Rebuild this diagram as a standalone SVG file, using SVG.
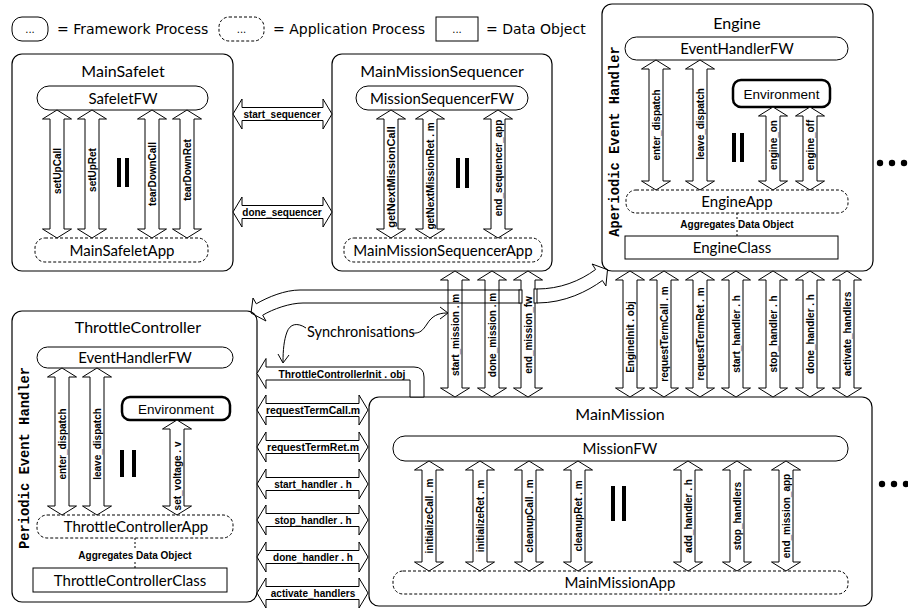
<svg xmlns="http://www.w3.org/2000/svg" width="908" height="610" viewBox="0 0 908 610">
<style>
.box{fill:#fff;stroke:#000;stroke-width:1.2}
.fw{fill:#fff;stroke:#000;stroke-width:1}
.app{fill:#fff;stroke:#000;stroke-width:1;stroke-dasharray:3 2}
.data{fill:#fff;stroke:#000;stroke-width:1}
.env{fill:#fff;stroke:#000;stroke-width:2.5}
.arr{fill:#fff;stroke:#000;stroke-width:1}
.line{fill:none;stroke:#000;stroke-width:1}
.dash{fill:none;stroke:#000;stroke-width:1;stroke-dasharray:2 2}
.bar{stroke:#000;stroke-width:4}
.title{font-family:Lato,"Liberation Sans",sans-serif;font-size:16px;text-anchor:middle}
.lbl{font-family:Lato,"Liberation Sans",sans-serif;font-size:15px;text-anchor:middle}
.sync{font-family:Lato,"Liberation Sans",sans-serif;font-size:14.5px}
.envt{font-family:"Liberation Sans",Arial,sans-serif;font-size:13.5px;text-anchor:middle}
.al{font-family:"Liberation Sans",Arial,sans-serif;font-weight:bold;font-size:10px;text-anchor:middle}
.mono{font-family:"Liberation Mono","Courier New",monospace;font-weight:bold;font-size:13.8px;text-anchor:middle}
.leg{font-family:"DejaVu Sans",sans-serif;font-size:14px}
.dots{font-family:"DejaVu Sans",sans-serif;font-size:10px;text-anchor:middle}
</style>
<rect x="0" y="0" width="908" height="610" fill="#fff"/>

<g id="legend">
<rect class="fw" x="12" y="17" width="36" height="24" rx="10"/>
<text class="dots" x="30" y="33">...</text>
<text class="leg" x="57" y="34">= Framework Process</text>
<rect class="app" x="219" y="17" width="45" height="24" rx="10"/>
<text class="dots" x="241.5" y="33">...</text>
<text class="leg" x="273" y="34">= Application Process</text>
<rect class="data" x="436" y="17" width="42" height="24"/>
<text class="dots" x="457" y="33">...</text>
<text class="leg" x="486" y="34">= Data Object</text>
</g>

<g id="MainSafelet">
<rect class="box" x="12" y="54" width="221" height="217" rx="10"/>
<text class="title" x="123" y="77">MainSafelet</text>
<rect class="fw" x="37" y="86" width="171" height="24" rx="12"/>
<text class="lbl" x="123" y="104">SafeletFW</text>
<rect class="app" x="35" y="238" width="173" height="24" rx="10"/>
<text class="lbl" x="122" y="256">MainSafeletApp</text>
<path class="arr" d="M57,110 l14.5,9 h-7.5 v110 h7.5 l-14.5,9 l-14.5,-9 h7.5 v-110 h-7.5 z"/>
<path class="arr" d="M92,110 l14.5,9 h-7.5 v110 h7.5 l-14.5,9 l-14.5,-9 h7.5 v-110 h-7.5 z"/>
<path class="arr" d="M152,110 l14.5,9 h-7.5 v110 h7.5 l-14.5,9 l-14.5,-9 h7.5 v-110 h-7.5 z"/>
<path class="arr" d="M187,110 l14.5,9 h-7.5 v110 h7.5 l-14.5,9 l-14.5,-9 h7.5 v-110 h-7.5 z"/>
<text class="al" transform="translate(61,171) rotate(-90) scale(1,1.15)">setUpCall</text>
<text class="al" transform="translate(96,170) rotate(-90) scale(1,1.15)">setUpRet</text>
<text class="al" transform="translate(156,174) rotate(-90) scale(1,1.15)">tearDownCall</text>
<text class="al" transform="translate(191,170) rotate(-90) scale(1,1.15)">tearDownRet</text>
<line class="bar" x1="119" y1="158" x2="119" y2="187"/>
<line class="bar" x1="127" y1="158" x2="127" y2="187"/>
</g>

<g id="MainMissionSequencer">
<rect class="box" x="332" y="54" width="220" height="217" rx="10"/>
<text class="title" x="442" y="77">MainMissionSequencer</text>
<rect class="fw" x="356" y="86" width="172" height="24" rx="12"/>
<text class="lbl" x="442" y="104">MissionSequencerFW</text>
<rect class="app" x="344" y="238" width="198" height="24" rx="10"/>
<text class="lbl" x="443" y="256">MainMissionSequencerApp</text>
<path class="arr" d="M391,110 l14.5,9 h-7.5 v110 h7.5 l-14.5,9 l-14.5,-9 h7.5 v-110 h-7.5 z"/>
<path class="arr" d="M430,110 l14.5,9 h-7.5 v110 h7.5 l-14.5,9 l-14.5,-9 h7.5 v-110 h-7.5 z"/>
<path class="arr" d="M498,110 l14.5,9 h-7.5 v110 h7.5 l-14.5,9 l-14.5,-9 h7.5 v-110 h-7.5 z"/>
<text class="al" transform="translate(395,177) rotate(-90) scale(1.1,1.15)">getNextMissionCall</text>
<text class="al" transform="translate(434,176) rotate(-90) scale(1,1.15)">getNextMissionRet . m</text>
<text class="al" transform="translate(502,168) rotate(-90) scale(1,1.15)">end_sequencer_app</text>
<line class="bar" x1="458" y1="158" x2="458" y2="188"/>
<line class="bar" x1="467" y1="158" x2="467" y2="188"/>
</g>

<g id="Engine">
<rect class="box" x="602" y="4" width="271" height="267" rx="10"/>
<text class="title" x="737" y="29">Engine</text>
<text class="mono" transform="translate(619,141.5) rotate(-90)">Aperiodic Event Handler</text>
<rect class="fw" x="625" y="37" width="223" height="23" rx="11.5"/>
<text class="lbl" x="737" y="54">EventHandlerFW</text>
<rect class="env" x="733" y="80" width="97" height="27" rx="8"/>
<text class="envt" x="781.5" y="98.5">Environment</text>
<rect class="app" x="626" y="190" width="222" height="23" rx="10"/>
<text class="lbl" x="737" y="207">EngineApp</text>
<line class="dash" x1="737" y1="213" x2="737" y2="219"/>
<text class="al" x="737" y="228">Aggregates Data Object</text>
<line class="dash" x1="737" y1="230" x2="737" y2="236"/>
<rect class="data" x="625" y="236" width="213" height="23"/>
<text class="lbl" x="732" y="253">EngineClass</text>
<path class="arr" d="M656,60 l14.5,9 h-7.5 v112 h7.5 l-14.5,9 l-14.5,-9 h7.5 v-112 h-7.5 z"/>
<path class="arr" d="M700,60 l14.5,9 h-7.5 v112 h7.5 l-14.5,9 l-14.5,-9 h7.5 v-112 h-7.5 z"/>
<path class="arr" d="M773,107 l14.5,9 h-7.5 v65 h7.5 l-14.5,9 l-14.5,-9 h7.5 v-65 h-7.5 z"/>
<path class="arr" d="M810,107 l14.5,9 h-7.5 v65 h7.5 l-14.5,9 l-14.5,-9 h7.5 v-65 h-7.5 z"/>
<text class="al" transform="translate(660,125) rotate(-90) scale(1,1.15)">enter_dispatch</text>
<text class="al" transform="translate(704,124) rotate(-90) scale(1,1.15)">leave_dispatch</text>
<text class="al" transform="translate(777,145) rotate(-90) scale(1,1.15)">engine_on</text>
<text class="al" transform="translate(814,145) rotate(-90) scale(1,1.15)">engine_off</text>
<line class="bar" x1="734" y1="133" x2="734" y2="162"/>
<line class="bar" x1="742" y1="133" x2="742" y2="162"/>
<circle cx="880" cy="163" r="3.2"/>
<circle cx="892" cy="163" r="3.2"/>
<circle cx="904" cy="163" r="3.2"/>
</g>

<g id="ThrottleController">
<rect class="box" x="12" y="311" width="245" height="291" rx="10"/>
<text class="title" x="138" y="333">ThrottleController</text>
<text class="mono" transform="translate(29,458) rotate(-90)">Periodic Event Handler</text>
<rect class="fw" x="37" y="347" width="196" height="21" rx="10.5"/>
<text class="lbl" x="135" y="363">EventHandlerFW</text>
<rect class="env" x="122" y="397" width="108" height="23" rx="8"/>
<text class="envt" x="176" y="413.5">Environment</text>
<rect class="app" x="37" y="515" width="196" height="23" rx="10"/>
<text class="lbl" x="136" y="532">ThrottleControllerApp</text>
<line class="dash" x1="135" y1="538" x2="135" y2="550"/>
<text class="al" x="135" y="559">Aggregates Data Object</text>
<line class="dash" x1="135" y1="562" x2="135" y2="568"/>
<rect class="data" x="33" y="568" width="194" height="24"/>
<text class="lbl" x="130" y="586">ThrottleControllerClass</text>
<path class="arr" d="M62,368 l14.5,9 h-7.5 v129 h7.5 l-14.5,9 l-14.5,-9 h7.5 v-129 h-7.5 z"/>
<path class="arr" d="M97,368 l14.5,9 h-7.5 v129 h7.5 l-14.5,9 l-14.5,-9 h7.5 v-129 h-7.5 z"/>
<path class="arr" d="M177,420 l14.5,9 h-7.5 v77 h7.5 l-14.5,9 l-14.5,-9 h7.5 v-77 h-7.5 z"/>
<text class="al" transform="translate(66,444) rotate(-90) scale(1,1.15)">enter_dispatch</text>
<text class="al" transform="translate(101,444) rotate(-90) scale(1,1.15)">leave_dispatch</text>
<text class="al" transform="translate(181,476) rotate(-90) scale(1,1.15)">set_voltage . v</text>
<line class="bar" x1="122" y1="450" x2="122" y2="477"/>
<line class="bar" x1="134" y1="450" x2="134" y2="477"/>
</g>

<g id="MainMission">
<rect class="box" x="369" y="397" width="503" height="209" rx="10"/>
<text class="title" x="620" y="420">MainMission</text>
<rect class="fw" x="393" y="436" width="455" height="25" rx="12"/>
<text class="lbl" x="620" y="454">MissionFW</text>
<rect class="app" x="393" y="571" width="455" height="23" rx="10"/>
<text class="lbl" x="620" y="588">MainMissionApp</text>
<path class="arr" d="M429,461 l14.5,9 h-7.5 v92 h7.5 l-14.5,9 l-14.5,-9 h7.5 v-92 h-7.5 z"/>
<path class="arr" d="M480,461 l14.5,9 h-7.5 v92 h7.5 l-14.5,9 l-14.5,-9 h7.5 v-92 h-7.5 z"/>
<path class="arr" d="M529,461 l14.5,9 h-7.5 v92 h7.5 l-14.5,9 l-14.5,-9 h7.5 v-92 h-7.5 z"/>
<path class="arr" d="M578,461 l14.5,9 h-7.5 v92 h7.5 l-14.5,9 l-14.5,-9 h7.5 v-92 h-7.5 z"/>
<path class="arr" d="M688,461 l14.5,9 h-7.5 v92 h7.5 l-14.5,9 l-14.5,-9 h7.5 v-92 h-7.5 z"/>
<path class="arr" d="M737,461 l14.5,9 h-7.5 v92 h7.5 l-14.5,9 l-14.5,-9 h7.5 v-92 h-7.5 z"/>
<path class="arr" d="M786,461 l14.5,9 h-7.5 v92 h7.5 l-14.5,9 l-14.5,-9 h7.5 v-92 h-7.5 z"/>
<text class="al" transform="translate(433,516) rotate(-90) scale(1,1.15)">initializeCall . m</text>
<text class="al" transform="translate(484,516) rotate(-90) scale(1,1.15)">initializeRet . m</text>
<text class="al" transform="translate(533,516) rotate(-90) scale(1,1.15)">cleanupCall . m</text>
<text class="al" transform="translate(582,516) rotate(-90) scale(1,1.15)">cleanupRet . m</text>
<text class="al" transform="translate(692,516) rotate(-90) scale(1,1.15)">add_handler . h</text>
<text class="al" transform="translate(741,516) rotate(-90) scale(1,1.15)">stop_handlers</text>
<text class="al" transform="translate(790,516) rotate(-90) scale(1,1.15)">end_mission_app</text>
<line class="bar" x1="613" y1="486" x2="613" y2="521"/>
<line class="bar" x1="624" y1="486" x2="624" y2="521"/>
<circle cx="882" cy="484" r="3.2"/>
<circle cx="894" cy="484" r="3.2"/>
<circle cx="906" cy="484" r="3.2"/>
</g>

<g id="connectors">
<path class="arr" d="M233,114 l9,-15 v8.5 h81 v-8.5 l9,15 l-9,15 v-8.5 h-81 v8.5 z"/>
<path class="arr" d="M233,212 l9,-15 v8.5 h81 v-8.5 l9,15 l-9,15 v-8.5 h-81 v8.5 z"/>
<text class="al" transform="translate(282,118) scale(1,1.15)">start_sequencer</text>
<text class="al" transform="translate(282,216) scale(1,1.15)">done_sequencer</text>

<path class="arr" d="M455,271 l14.5,9 h-7.5 v108 h7.5 l-14.5,9 l-14.5,-9 h7.5 v-108 h-7.5 z"/>
<path class="arr" d="M492,271 l14.5,9 h-7.5 v108 h7.5 l-14.5,9 l-14.5,-9 h7.5 v-108 h-7.5 z"/>
<path class="arr" d="M528,271 l14.5,9 h-7.5 v108 h7.5 l-14.5,9 l-14.5,-9 h7.5 v-108 h-7.5 z"/>
<text class="al" transform="translate(459,335) rotate(-90) scale(1,1.15)">start_mission . m</text>
<text class="al" transform="translate(496,335) rotate(-90) scale(1,1.15)">done_mission . m</text>
<text class="al" transform="translate(532,335) rotate(-90) scale(1,1.15)">end_mission_fw</text>

<path class="arr" d="M630,271 l14.5,9 h-7.5 v108 h7.5 l-14.5,9 l-14.5,-9 h7.5 v-108 h-7.5 z"/>
<path class="arr" d="M664,271 l14.5,9 h-7.5 v108 h7.5 l-14.5,9 l-14.5,-9 h7.5 v-108 h-7.5 z"/>
<path class="arr" d="M700,271 l14.5,9 h-7.5 v108 h7.5 l-14.5,9 l-14.5,-9 h7.5 v-108 h-7.5 z"/>
<path class="arr" d="M736,271 l14.5,9 h-7.5 v108 h7.5 l-14.5,9 l-14.5,-9 h7.5 v-108 h-7.5 z"/>
<path class="arr" d="M773,271 l14.5,9 h-7.5 v108 h7.5 l-14.5,9 l-14.5,-9 h7.5 v-108 h-7.5 z"/>
<path class="arr" d="M810,271 l14.5,9 h-7.5 v108 h7.5 l-14.5,9 l-14.5,-9 h7.5 v-108 h-7.5 z"/>
<path class="arr" d="M847,271 l14.5,9 h-7.5 v108 h7.5 l-14.5,9 l-14.5,-9 h7.5 v-108 h-7.5 z"/>
<text class="al" transform="translate(634,337) rotate(-90) scale(1,1.15)">EngineInit . obj</text>
<text class="al" transform="translate(668,334) rotate(-90) scale(1,1.15)">requestTermCall . m</text>
<text class="al" transform="translate(704,334) rotate(-90) scale(1,1.15)">requestTermRet . m</text>
<text class="al" transform="translate(740,334) rotate(-90) scale(1,1.15)">start_handler . h</text>
<text class="al" transform="translate(777,334) rotate(-90) scale(1,1.15)">stop_handler . h</text>
<text class="al" transform="translate(814,334) rotate(-90) scale(1,1.15)">done_handler . h</text>
<text class="al" transform="translate(851,334) rotate(-90) scale(1,1.15)">activate_handlers</text>

<path class="arr" d="M257,373.5 l9,-15 v8.5 H414 Q424,367 424,377 V397 H410 V380 H266 v8.5 z"/>
<text class="al" transform="translate(342,377.5) scale(1.03,1.15)">ThrottleControllerInit . obj</text>
<path class="arr" d="M257,410 l9,-15 v8.5 h93 v-8.5 l9,15 l-9,15 v-8.5 h-93 v8.5 z"/>
<path class="arr" d="M257,447 l9,-15 v8.5 h93 v-8.5 l9,15 l-9,15 v-8.5 h-93 v8.5 z"/>
<path class="arr" d="M257,484 l9,-15 v8.5 h93 v-8.5 l9,15 l-9,15 v-8.5 h-93 v8.5 z"/>
<path class="arr" d="M257,520 l9,-15 v8.5 h93 v-8.5 l9,15 l-9,15 v-8.5 h-93 v8.5 z"/>
<path class="arr" d="M257,557 l9,-15 v8.5 h93 v-8.5 l9,15 l-9,15 v-8.5 h-93 v8.5 z"/>
<path class="arr" d="M257,593 l9,-15 v8.5 h93 v-8.5 l9,15 l-9,15 v-8.5 h-93 v8.5 z"/>
<text class="al" transform="translate(313,414) scale(1.05,1.15)">requestTermCall.m</text>
<text class="al" transform="translate(313,451) scale(1.05,1.15)">requestTermRet.m</text>
<text class="al" transform="translate(313,488) scale(1,1.15)">start_handler . h</text>
<text class="al" transform="translate(313,524) scale(1,1.15)">stop_handler . h</text>
<text class="al" transform="translate(313,561) scale(1,1.15)">done_handler . h</text>
<text class="al" transform="translate(313,597) scale(1,1.15)">activate_handlers</text>

<path class="line" d="M520,290 L300,290 C285,290 268,297 256.3,303.8 L253,298 L251,313 L266,321 L262.7,315.2 C273,309 290,303 303,303 L520,303"/>
<rect class="arr" x="519" y="290" width="3" height="13"/>
<path class="line" d="M537,289 C560,289 580,281 595.6,269.5 L592.1,264 L607.5,269.7 L605.9,286 L602.4,280.5 C588,291 565,303 537,303"/>
<rect class="arr" x="534" y="289" width="3" height="14"/>

<text class="sync" x="307" y="337">Synchronisations</text>
<path class="line" d="M306,328 C297,322 290,324 287,332 C284,340 283,350 283,362"/>
<path class="line" d="M278,354 L283,363 L289,355"/>
<path class="line" d="M412,333 C420,334 423,330 427,324 C432,316 438,313 447,313"/>
<path class="line" d="M440,307 L448,313 L440,319"/>
</g>
</svg>
